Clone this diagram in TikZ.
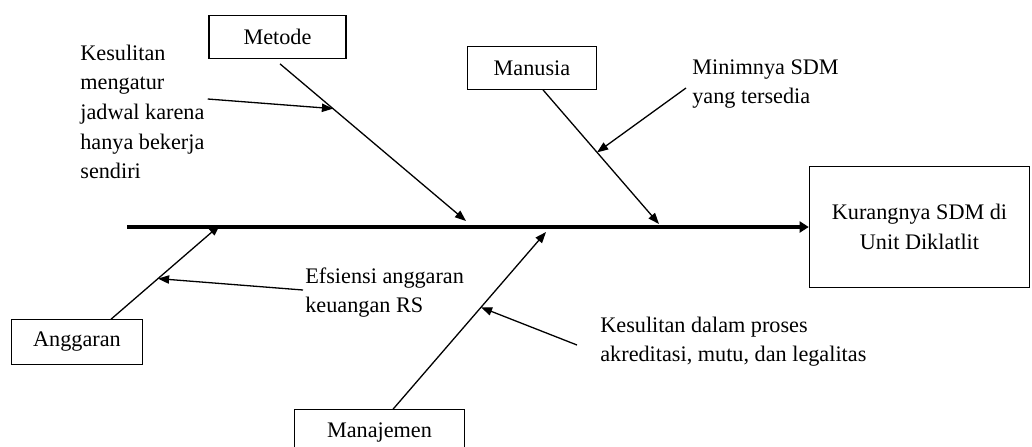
\documentclass[tikz,border=0pt]{standalone}
\usepackage{fontspec}
\setmainfont{Liberation Serif}
\usetikzlibrary{arrows.meta,positioning,calc}

\begin{document}
\begin{tikzpicture}[
    x=0.54pt, y=-0.54pt,
    cause/.style={rectangle, draw, line width=0.6pt, minimum height=23pt, inner sep=2pt, text centered, font=\fontsize{12}{16}\selectfont},
    effect/.style={rectangle, draw, line width=0.6pt, minimum width=119pt, minimum height=65pt, align=center, font=\fontsize{12}{16}\selectfont},
    note/.style={anchor=west, align=left, inner sep=0pt, font=\fontsize{12}{16}\selectfont},
    spine/.style={line width=2.4pt, -{Triangle[length=5pt,width=6pt]}},
    bone/.style={line width=0.7pt, -{Triangle[length=6pt,width=4.5pt]}}
]
\useasboundingbox (0,0) rectangle (1032,446);

% kepala ikan
\node (effect) [effect] at (919.5,227) {Kurangnya SDM di\\Unit Diklatlit};

% kategori penyebab
\node (metode) [cause, minimum width=74pt] at (277.5,37) {Metode};
\node (manusia) [cause, minimum width=70pt] at (532,68) {Manusia};
\node (anggaran) [cause, minimum width=71pt, minimum height=24pt] at (77,342) {Anggaran};
\node (manajemen) [cause, minimum width=92pt, minimum height=24pt] at (379.5,432) {Manajemen};

% keterangan
\node (n_metode) [note] at (80,112) {Kesulitan\\mengatur\\jadwal karena\\hanya bekerja\\sendiri};
\node (n_manusia) [note] at (692,84) {Minimnya SDM\\yang tersedia};
\node (n_anggaran) [note] at (305,292.5) {Efsiensi anggaran\\keuangan RS};
\node (n_manajemen) [note] at (600,341.5) {Kesulitan dalam proses\\akreditasi, mutu, dan legalitas};

% titik pada tulang utama
\coordinate (tail) at (127,227);
\coordinate (metode_end) at (466,221);
\coordinate (manusia_end) at (659,224);
\coordinate (anggaran_end) at (220,225);
\coordinate (manajemen_end) at (546,232);

\draw[spine] (tail) -- (effect.west);

\draw[bone] ($(metode.south)+(2.5,5)$) -- coordinate[pos=0.285] (metode_p) (metode_end);
\draw[bone] ($(manusia.south)+(11,0)$) -- coordinate[pos=0.466] (manusia_p) (manusia_end);
\draw[bone] ($(anggaran.north)+(34,0)$) -- coordinate[pos=0.431] (anggaran_p) (anggaran_end);
\draw[bone] ($(manajemen.north)+(13.5,0)$) -- coordinate[pos=0.575] (manajemen_p) (manajemen_end);

\draw[bone] ($(n_metode.east)+(3,-13)$) -- (metode_p);
\draw[bone] ($(n_manusia.west)+(-6,4)$) -- (manusia_p);
\draw[bone] ($(n_anggaran.west)+(-2,-2.5)$) -- (anggaran_p);
\draw[bone] ($(n_manajemen.west)+(-23,3.5)$) -- (manajemen_p);

\end{tikzpicture}
\end{document}
